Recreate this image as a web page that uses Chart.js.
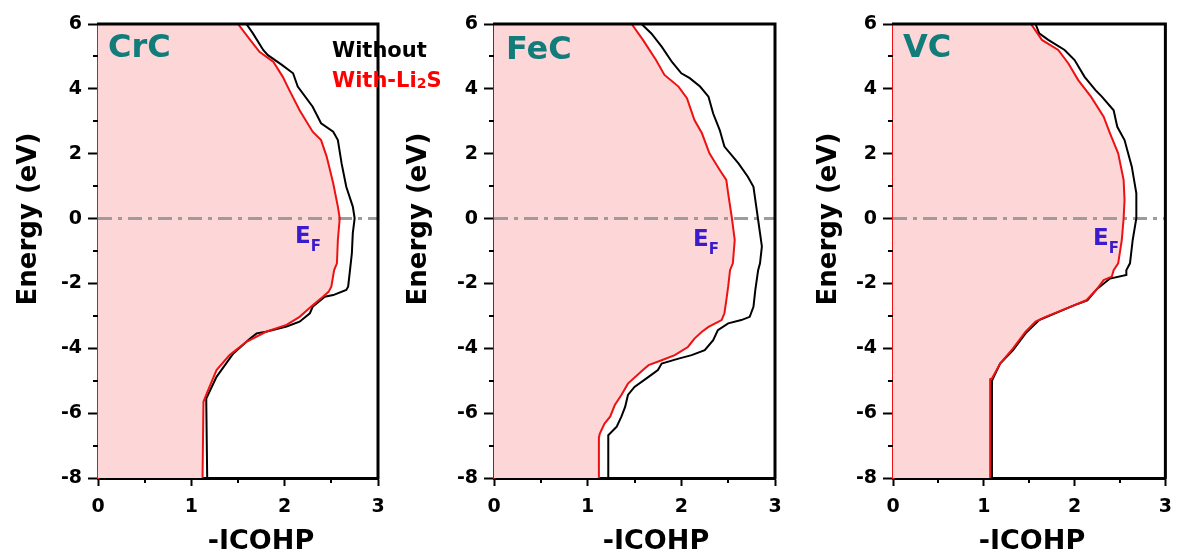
<!DOCTYPE html>
<html><head><meta charset="utf-8">
<script src="https://cdn.jsdelivr.net/npm/chart.js@4/dist/chart.umd.min.js"></script>
<style>
html,body{margin:0;padding:0;background:#fff;}
body{width:1182px;height:556px;position:relative;overflow:hidden;}
canvas{position:absolute;top:0;}
</style></head>
<body>
<canvas id="c1"></canvas>
<canvas id="c2"></canvas>
<canvas id="c3"></canvas>
<script>
// ---------- data ----------
const categories = ['CrC', 'FeC', 'VC'];
const seriesNames = ['Without', 'With-Li2S'];
const xTicksRange = [0, 3];     // -ICOHP
const yTicksRange = [-8, 6];    // Energy (eV)

// CrC
const crcWithoutE = [-8, -5.65, -5.55, -4.88, -4.16, -3.70, -3.54, -3.49, -3.33, -3.18, -2.92, -2.72, -2.41, -2.36, -2.20, -2.10, -1.59, -1.07, -0.45, 0.01, 0.37, 0.98, 1.70, 2.42, 2.68, 2.94, 3.45, 4.07, 4.48, 4.74, 5.04, 5.20, 5.71, 6];
const crcWithoutV = [1.17, 1.16, 1.16, 1.27, 1.45, 1.63, 1.70, 1.80, 2.02, 2.16, 2.27, 2.30, 2.43, 2.52, 2.66, 2.68, 2.70, 2.72, 2.73, 2.75, 2.73, 2.66, 2.61, 2.57, 2.52, 2.39, 2.30, 2.14, 2.09, 1.97, 1.82, 1.77, 1.66, 1.59];
const crcWithE = [-8, -5.65, -5.29, -4.67, -4.21, -3.80, -3.49, -3.28, -3.03, -2.67, -2.41, -2.26, -2.10, -1.59, -1.38, -0.66, 0.01, 0.37, 1.09, 1.91, 2.42, 2.68, 3.34, 3.96, 4.37, 4.83, 5.14, 5.51, 6];
const crcWithV = [1.12, 1.13, 1.18, 1.27, 1.41, 1.59, 1.80, 2.02, 2.16, 2.30, 2.41, 2.47, 2.50, 2.53, 2.56, 2.57, 2.59, 2.57, 2.52, 2.45, 2.39, 2.30, 2.16, 2.05, 1.98, 1.88, 1.73, 1.63, 1.50];

// FeC
const fecWithoutE = [-8, -6.68, -6.42, -6.11, -5.81, -5.44, -5.19, -4.88, -4.67, -4.47, -4.32, -4.21, -4.06, -3.75, -3.44, -3.23, -3.13, -3.03, -2.72, -2.20, -1.59, -1.38, -0.86, -0.45, 0.37, 0.98, 1.29, 1.70, 2.22, 2.73, 3.24, 3.76, 4.07, 4.33, 4.48, 4.83, 5.30, 5.71, 6];
const fecWithoutV = [1.22, 1.22, 1.31, 1.36, 1.40, 1.43, 1.50, 1.65, 1.75, 1.79, 1.97, 2.11, 2.25, 2.34, 2.39, 2.50, 2.64, 2.73, 2.77, 2.79, 2.82, 2.84, 2.86, 2.84, 2.80, 2.77, 2.71, 2.61, 2.46, 2.41, 2.34, 2.29, 2.20, 2.09, 2.00, 1.90, 1.79, 1.68, 1.575];
const fecWithE = [-8, -6.75, -6.63, -6.32, -6.11, -5.75, -5.44, -5.09, -4.67, -4.52, -4.37, -4.21, -3.96, -3.70, -3.49, -3.34, -3.13, -2.92, -2.52, -2.10, -1.59, -1.38, -0.66, 0.01, 0.78, 1.19, 1.50, 2.01, 2.63, 3.04, 3.71, 4.07, 4.43, 4.89, 5.51, 6];
const fecWithV = [1.12, 1.12, 1.13, 1.18, 1.24, 1.29, 1.36, 1.43, 1.59, 1.65, 1.79, 1.93, 2.07, 2.14, 2.22, 2.29, 2.43, 2.46, 2.48, 2.50, 2.52, 2.55, 2.57, 2.54, 2.50, 2.48, 2.41, 2.30, 2.22, 2.14, 2.06, 1.97, 1.82, 1.73, 1.59, 1.47];

// VC
const vcWithoutE = [-8, -5.0, -4.88, -4.47, -4.06, -3.54, -3.29, -3.13, -2.67, -2.52, -2.16, -1.85, -1.74, -1.59, -1.38, -0.66, 0.01, 0.78, 1.60, 2.42, 2.83, 3.34, 3.76, 3.96, 4.37, 4.89, 5.20, 5.51, 5.71, 6];
const vcWithoutV = [1.09, 1.09, 1.11, 1.18, 1.32, 1.46, 1.55, 1.61, 2.00, 2.14, 2.25, 2.39, 2.57, 2.57, 2.61, 2.64, 2.68, 2.68, 2.63, 2.55, 2.47, 2.43, 2.30, 2.23, 2.11, 2.00, 1.89, 1.71, 1.61, 1.57];
const vcWithE = [-8, -4.95, -4.93, -4.47, -4.01, -3.49, -3.18, -3.03, -2.67, -2.52, -2.16, -1.90, -1.79, -1.59, -1.38, -0.66, 0.01, 0.57, 1.19, 2.01, 2.63, 3.14, 3.76, 4.27, 4.79, 5.20, 5.51, 6];
const vcWithV = [1.07, 1.07, 1.09, 1.18, 1.32, 1.46, 1.57, 1.68, 2.00, 2.13, 2.25, 2.32, 2.41, 2.43, 2.48, 2.52, 2.54, 2.55, 2.54, 2.48, 2.39, 2.32, 2.18, 2.04, 1.93, 1.82, 1.64, 1.52];

// ---------- styling ----------
const FONT = "'DejaVu Sans', 'Liberation Sans', Arial, sans-serif";
Chart.defaults.font.family = FONT;
const RED = '#ee1111';
const PINK = '#fdd6d7';
const TEAL = '#127c7a';
const EFBLUE = '#3a1ccc';
const H = 556, PLOT_TOP = 24, PLOT_BOTTOM = 478;

function pts(E, V) { return E.map((e, i) => ({x: V[i], y: e})); }

const decorPlugin = {
  id: 'decor',
  afterDraw(chart, args, o) {
    const ctx = chart.ctx, a = chart.chartArea;
    const xs = chart.scales.x, ys = chart.scales.y;
    ctx.save();
    // frame top + right
    ctx.strokeStyle = '#000'; ctx.lineWidth = 3;
    ctx.beginPath(); ctx.moveTo(a.left - 1, a.top); ctx.lineTo(a.right, a.top); ctx.lineTo(a.right, a.bottom + 1.5); ctx.stroke();
    // minor ticks
    ctx.lineWidth = 2;
    ctx.beginPath();
    for (let v = yTicksRange[0] + 1; v < yTicksRange[1]; v += 2) {
      const py = Math.round(ys.getPixelForValue(v));
      ctx.moveTo(a.left - 5, py); ctx.lineTo(a.left, py);
    }
    for (let v = xTicksRange[0] + 0.5; v < xTicksRange[1]; v += 1) {
      const px = Math.round(xs.getPixelForValue(v));
      ctx.moveTo(px, a.bottom); ctx.lineTo(px, a.bottom + 5);
    }
    ctx.stroke();
    // panel label
    ctx.fillStyle = TEAL; ctx.textBaseline = 'alphabetic'; ctx.textAlign = 'left';
    ctx.font = 'bold 32px ' + FONT;
    ctx.fillText(o.name, a.left + o.nameDx, o.nameY);
    // E_F
    ctx.fillStyle = EFBLUE;
    ctx.font = 'bold 23px ' + FONT;
    ctx.fillText('E', a.left + o.efDx, o.efY);
    const ew = ctx.measureText('E').width;
    ctx.font = 'bold 15px ' + FONT;
    ctx.fillText('F', a.left + o.efDx + ew, o.efY + 8);
    // axis titles
    ctx.fillStyle = '#000';
    ctx.font = 'bold 27px ' + FONT;
    ctx.textAlign = 'center'; ctx.textBaseline = 'middle';
    ctx.fillText('-ICOHP', o.xTitleX, 542);
    ctx.font = 'bold 26px ' + FONT;
    ctx.save();
    ctx.translate(o.yTitleX, 219);
    ctx.rotate(-Math.PI / 2);
    ctx.fillText('Energy (eV)', 0, 0);
    ctx.restore();
    // legend
    if (o.legend) {
      ctx.textAlign = 'left'; ctx.textBaseline = 'alphabetic';
      ctx.font = 'bold 21px ' + FONT;
      ctx.fillStyle = '#000';
      ctx.fillText(seriesNames[0], o.legendX, 57);
      ctx.fillStyle = '#ff0000';
      let x = o.legendX;
      ctx.fillText('With-Li', x, 87); x += ctx.measureText('With-Li').width;
      ctx.font = 'bold 14px ' + FONT;
      ctx.fillText('2', x, 88); x += ctx.measureText('2').width;
      ctx.font = 'bold 21px ' + FONT;
      ctx.fillText('S', x, 87);
    }
    ctx.restore();
  }
};

function buildPanel(p) {
  const canvas = document.getElementById(p.id);
  canvas.width = p.width; canvas.height = H;
  canvas.style.left = p.left + 'px';
  canvas.style.width = p.width + 'px'; canvas.style.height = H + 'px';
  const plotL = p.plotLeft - p.left, plotR = p.plotRight - p.left;
  const withPts = pts(p.withE, p.withV);
  const fillPts = withPts.concat([{x: xTicksRange[0], y: yTicksRange[1]}, {x: xTicksRange[0], y: yTicksRange[0]}]);
  const tickFont = {family: FONT, size: 19, weight: 'bold'};
  new Chart(canvas, {
    type: 'line',
    data: {datasets: [
      {label: seriesNames[1], data: withPts, borderColor: RED, borderWidth: 2, pointRadius: 0, fill: false, tension: 0},
      {label: seriesNames[0], data: pts(p.withoutE, p.withoutV), borderColor: '#000', borderWidth: 2, pointRadius: 0, fill: false, tension: 0},
      {label: 'EF', data: [{x: xTicksRange[0], y: 0}, {x: xTicksRange[1], y: 0}], borderColor: '#a09a9a', borderWidth: 3, borderDash: [14, 6, 4, 6], pointRadius: 0, fill: false},
      {label: 'area', data: fillPts, borderWidth: 0, borderColor: 'rgba(0,0,0,0)', backgroundColor: PINK, fill: 'shape', pointRadius: 0, tension: 0}
    ]},
    options: {
      responsive: false, animation: false, devicePixelRatio: 1,
      layout: {padding: {top: PLOT_TOP, right: p.width - plotR, left: 0, bottom: 0}},
      plugins: {
        legend: {display: false}, tooltip: {enabled: false},
        decor: {name: p.name, nameDx: p.nameDx, nameY: p.nameY, efDx: p.efDx, efY: p.efY,
                xTitleX: p.xTitleX - p.left, yTitleX: p.yTitleX - p.left, legend: p.legend, legendX: 332 - p.left}
      },
      scales: {
        x: {
          type: 'linear', position: 'bottom', min: xTicksRange[0], max: xTicksRange[1], z: 1,
          afterFit: s => { s.height = H - PLOT_BOTTOM; },
          ticks: {stepSize: 1, font: tickFont, color: '#000', padding: 10, maxRotation: 0},
          grid: {drawOnChartArea: false, drawTicks: true, tickLength: 8, tickWidth: 2, tickColor: '#000'},
          border: {display: true, color: '#000', width: 3}
        },
        y: {
          type: 'linear', position: 'left', min: yTicksRange[0], max: yTicksRange[1], z: 1,
          afterFit: s => { s.width = plotL; },
          ticks: {stepSize: 2, font: tickFont, color: '#000', padding: 6},
          grid: {drawOnChartArea: false, drawTicks: true, tickLength: 10, tickWidth: 2, tickColor: '#000'},
          border: {display: true, color: p.edge, width: 2.5}
        }
      }
    },
    plugins: [decorPlugin]
  });
}

buildPanel({id: 'c1', name: categories[0], left: 0, width: 450, plotLeft: 98, plotRight: 378,
  withoutE: crcWithoutE, withoutV: crcWithoutV, withE: crcWithE, withV: crcWithV,
  nameDx: 10, nameY: 57, efDx: 197, efY: 243, xTitleX: 261, yTitleX: 29, legend: true, edge: RED});
buildPanel({id: 'c2', name: categories[1], left: 390, width: 405, plotLeft: 494, plotRight: 775,
  withoutE: fecWithoutE, withoutV: fecWithoutV, withE: fecWithE, withV: fecWithV,
  nameDx: 12, nameY: 59, efDx: 199, efY: 246, xTitleX: 656, yTitleX: 419, legend: false, edge: '#a01515'});
buildPanel({id: 'c3', name: categories[2], left: 790, width: 392, plotLeft: 893, plotRight: 1173,
  withoutE: vcWithoutE, withoutV: vcWithoutV, withE: vcWithE, withV: vcWithV,
  nameDx: 10, nameY: 57, efDx: 200, efY: 245, xTitleX: 1032, yTitleX: 829, legend: false, edge: RED});
</script>
</body></html>
